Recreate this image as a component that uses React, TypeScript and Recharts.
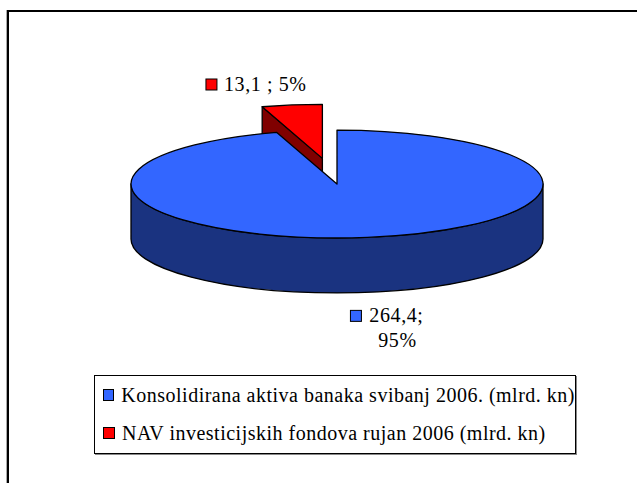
import React from "react";
import { PieChart, Pie, Legend } from "recharts";

// podaci
const categories = [
  "Konsolidirana aktiva banaka svibanj 2006. (mlrd. kn)",
  "NAV investicijskih fondova rujan 2006 (mlrd. kn)",
];
const values = [264.4, 13.1];
const topColors = ["#3366FF", "#FF0000"];
const sideColors = ["#1A3380", "#800000"];
const explodes = [0, 0.48];

const TILT = 0.262;
const DEPTH = 55;
const FONT = "'Liberation Serif', 'Times New Roman', Tinos, serif";

const total = values.reduce((a, b) => a + b, 0);
// red drawn first (back slice), blue starts at 12 o'clock going clockwise
const pieData = [1, 0].map((i) => ({
  name: categories[i],
  value: values[i],
  fill: topColors[i],
  side: sideColors[i],
  explode: explodes[i],
  idx: i,
}));
const START = 90 + (360 * values[1]) / total;

const rad = (a: number) => (a * Math.PI) / 180;

const Slice3D = (props: any) => {
  const { cx, cy, startAngle, endAngle, outerRadius, midAngle } = props;
  const entry = props.payload && props.payload.side ? props.payload : props;
  const rx = outerRadius;
  const ry = outerRadius * TILT;
  const ox = cx + entry.explode * rx * Math.cos(rad(midAngle));
  const oy = cy - entry.explode * ry * Math.sin(rad(midAngle));
  const P = (a: number, dz = 0) => [ox + rx * Math.cos(rad(a)), oy - ry * Math.sin(rad(a)) + dz];
  const s = Math.max(startAngle, endAngle);
  const e = Math.min(startAngle, endAngle);
  const st = { stroke: "#000", strokeWidth: 1.3, strokeLinejoin: "round" as const };
  const parts: React.ReactNode[] = [];

  // radial faces
  const radial = (a: number, key: string) => {
    const [x1, y1] = P(a);
    parts.push(
      <path
        key={key}
        d={`M${ox},${oy} L${x1},${y1} L${x1},${y1 + DEPTH} L${ox},${oy + DEPTH} Z`}
        fill={entry.side}
        {...st}
      />
    );
  };
  if (Math.cos(rad(s)) < -1e-6) radial(s, "rs");
  if (Math.cos(rad(e)) > 1e-6) radial(e, "re");

  // outer wall, front half only
  for (let k = -2; k <= 1; k++) {
    const a = Math.min(s, 360 + 360 * k);
    const b = Math.max(e, 180 + 360 * k);
    if (a - b > 0.01) {
      const [x1, y1] = P(a);
      const [x2, y2] = P(b);
      const lg = a - b > 180 ? 1 : 0;
      parts.push(
        <path
          key={`w${k}`}
          d={`M${x1},${y1} A${rx},${ry} 0 ${lg} 1 ${x2},${y2} L${x2},${y2 + DEPTH} A${rx},${ry} 0 ${lg} 0 ${x1},${y1 + DEPTH} Z`}
          fill={entry.side}
          {...st}
        />
      );
    }
  }

  // top face
  const [sx, sy] = P(s);
  const [ex, ey] = P(e);
  parts.push(
    <path
      key="top"
      d={`M${ox},${oy} L${sx},${sy} A${rx},${ry} 0 ${s - e > 180 ? 1 : 0} 1 ${ex},${ey} Z`}
      fill={entry.fill}
      {...st}
    />
  );
  return <g>{parts}</g>;
};

const fmt = (v: number) => v.toFixed(1).replace(".", ",");

const renderLabel = (props: any) => {
  const { cx, cy, midAngle, outerRadius, value, percent } = props;
  const entry = props.payload && props.payload.side ? props.payload : props;
  const rx = outerRadius;
  const ry = outerRadius * TILT;
  const ox = cx + entry.explode * rx * Math.cos(rad(midAngle));
  const oy = cy - entry.explode * ry * Math.sin(rad(midAngle));
  const x = ox + rx * Math.cos(rad(midAngle));
  const y = oy - ry * Math.sin(rad(midAngle));
  const pct = Math.round(percent * 100);
  const txt = { fontFamily: FONT, fontSize: 20, fill: "#000", letterSpacing: 0.6 };
  if (Math.sin(rad(midAngle)) < 0) {
    const by = y + DEPTH + 30;
    return (
      <g>
        <rect x={x - 17} y={by - 12} width={11} height={11} fill={entry.fill} stroke="#000" strokeWidth={1} />
        <text x={x + 29} y={by} textAnchor="middle" {...txt}>{`${fmt(value)};`}</text>
        <text x={x + 30} y={by + 25} textAnchor="middle" {...txt}>{`${pct}%`}</text>
      </g>
    );
  }
  const by = y - 14;
  return (
    <g>
      <rect x={x - 86} y={by - 12} width={11} height={11} fill={entry.fill} stroke="#000" strokeWidth={1} />
      <text x={x - 68} y={by} {...txt}>{`${fmt(value)} ; ${pct}%`}</text>
    </g>
  );
};

const renderLegend = () => (
  <div
    style={{
      width: 482,
      height: 79,
      boxSizing: "border-box",
      border: "1px solid #000",
      boxShadow: "1px 1px 0 #888",
      background: "#fff",
      fontFamily: FONT,
      fontSize: 20,
      letterSpacing: 0.5,
      color: "#000",
      paddingLeft: 8,
    }}
  >
    {categories.map((c, i) => (
      <div key={c} style={{ height: 38, display: "flex", alignItems: "center", whiteSpace: "nowrap" }}>
        <span
          style={{
            display: "inline-block",
            width: 10,
            height: 10,
            background: topColors[i],
            border: "1px solid #000",
            marginRight: 7,
          }}
        />
        {c}
      </div>
    ))}
  </div>
);

export default function App() {
  return (
    <div style={{ position: "absolute", left: 0, top: 0, width: 637, height: 483, overflow: "hidden", background: "#fff" }}>
      <div
        style={{
          position: "absolute",
          left: 7,
          top: 10,
          width: 700,
          height: 600,
          borderLeft: "2px solid #000",
          borderTop: "2px solid #000",
          boxShadow: "-1px 0 0 #aaa",
        }}
      />
      <div style={{ position: "absolute", left: 0, top: 0 }}>
        <PieChart width={637} height={483} margin={{ top: 0, right: 0, bottom: 0, left: 0 }}>
          <Pie
            data={pieData}
            dataKey="value"
            nameKey="name"
            cx={337}
            cy={184}
            outerRadius={206}
            startAngle={START}
            endAngle={START - 360}
            stroke="none"
            shape={Slice3D}
            activeShape={Slice3D}
            inactiveShape={Slice3D}
            label={renderLabel}
            labelLine={false}
            isAnimationActive={false}
          />
          <Legend
            content={renderLegend}
            wrapperStyle={{ left: 94, top: 375, bottom: "auto", width: 482, height: 79 }}
          />
        </PieChart>
      </div>
    </div>
  );
}
